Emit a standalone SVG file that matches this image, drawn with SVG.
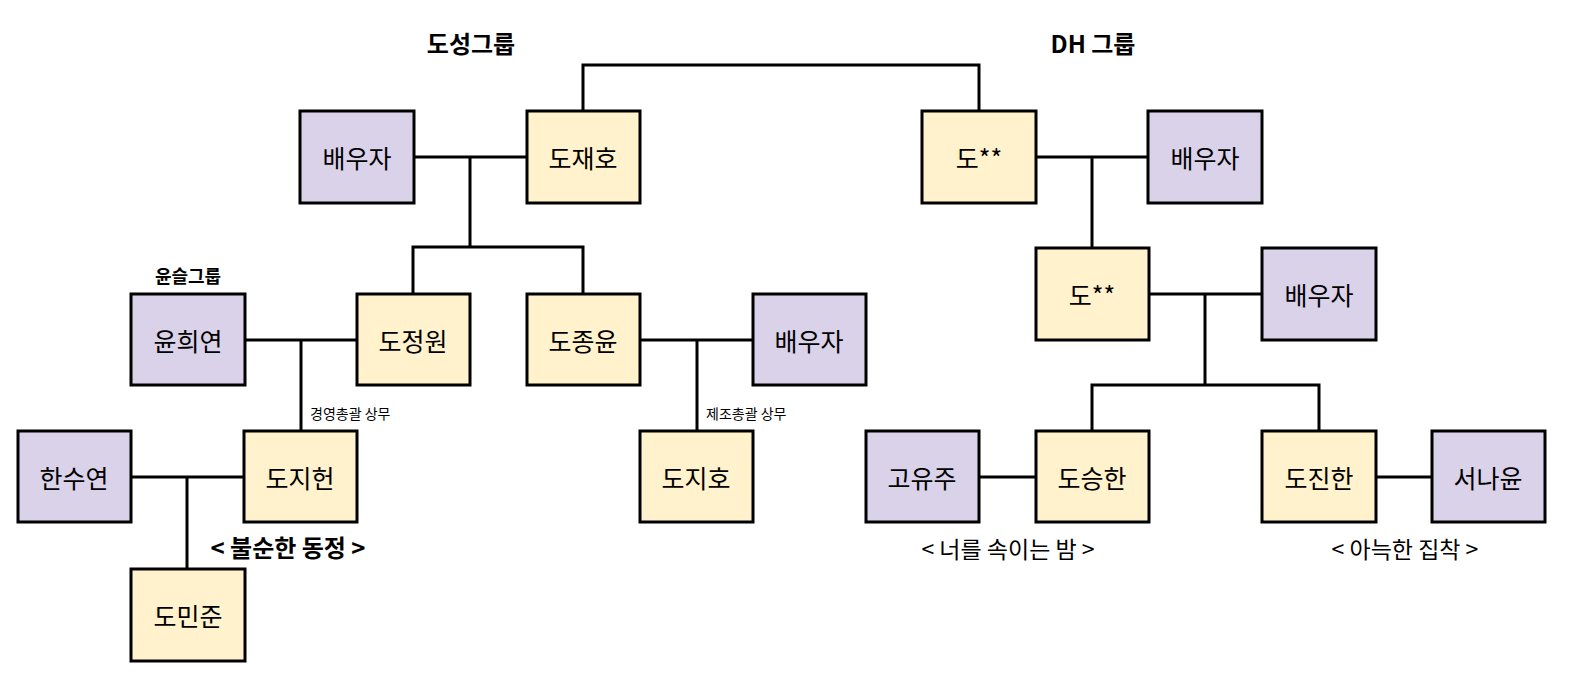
<svg xmlns="http://www.w3.org/2000/svg" width="1580" height="698" viewBox="0 0 1580 698">
<style>
text{font-family:"Noto Sans CJK KR","Noto Sans",sans-serif;fill:#000;text-anchor:middle}
.p{fill:#d9d2e9;stroke:#000;stroke-width:3}
.y{fill:#fff2cc;stroke:#000;stroke-width:3}
.n{font-size:25px;dominant-baseline:central}
.t{font-size:24px;font-weight:bold}
.s{font-size:14px;text-anchor:start}
.l{font-size:23px}
#c path{fill:none;stroke:#000;stroke-width:3}
</style>
<rect width="1580" height="698" fill="#fff"/>
<g id="c">
<path d="M583 111V65H979V111"/>
<path d="M414 157H527M470 157V247M413 294V247H583V294"/>
<path d="M1036 157H1148M1092 157V248"/>
<path d="M1149 294H1262M1205 294V385M1092 431V385H1319V431"/>
<path d="M245 340H357M301 340V431"/>
<path d="M640 340H753M697 340V431"/>
<path d="M131 477H244M187 477V569"/>
<path d="M979 477H1036M1376 477H1432"/>
</g>
<text class="t" x="471" y="53">도성그룹</text>
<text class="t" x="1093" y="53">DH 그룹</text>
<text x="188" y="283" style="font-size:18px;font-weight:bold">윤슬그룹</text>
<text class="s" x="310" y="419">경영총괄 상무</text>
<text class="s" x="706" y="419">제조총괄 상무</text>
<text class="t" x="288" y="557">&lt; 불순한 동정 &gt;</text>
<text class="l" x="1008" y="558">&lt; 너를 속이는 밤 &gt;</text>
<text class="l" x="1405" y="558">&lt; 아늑한 집착 &gt;</text>
<g id="n1"><rect class="p" x="300" y="111" width="114" height="92"/><text class="n" x="357" y="157">배우자</text></g>
<g id="n2"><rect class="y" x="527" y="111" width="113" height="92"/><text class="n" x="583" y="157">도재호</text></g>
<g id="n3"><rect class="y" x="922" y="111" width="114" height="92"/><text class="n" x="979" y="157">도**</text></g>
<g id="n4"><rect class="p" x="1148" y="111" width="114" height="92"/><text class="n" x="1205" y="157">배우자</text></g>
<g id="n5"><rect class="y" x="1036" y="248" width="113" height="92"/><text class="n" x="1092" y="294">도**</text></g>
<g id="n6"><rect class="p" x="1262" y="248" width="114" height="92"/><text class="n" x="1319" y="294">배우자</text></g>
<g id="n7"><rect class="p" x="131" y="294" width="114" height="91"/><text class="n" x="188" y="340">윤희연</text></g>
<g id="n8"><rect class="y" x="357" y="294" width="113" height="91"/><text class="n" x="413" y="340">도정원</text></g>
<g id="n9"><rect class="y" x="527" y="294" width="113" height="91"/><text class="n" x="583" y="340">도종윤</text></g>
<g id="n10"><rect class="p" x="753" y="294" width="113" height="91"/><text class="n" x="809" y="340">배우자</text></g>
<g id="n11"><rect class="p" x="18" y="431" width="113" height="91"/><text class="n" x="74" y="477">한수연</text></g>
<g id="n12"><rect class="y" x="244" y="431" width="113" height="91"/><text class="n" x="300" y="477">도지헌</text></g>
<g id="n13"><rect class="y" x="640" y="431" width="113" height="91"/><text class="n" x="696" y="477">도지호</text></g>
<g id="n14"><rect class="p" x="866" y="431" width="113" height="91"/><text class="n" x="922" y="477">고유주</text></g>
<g id="n15"><rect class="y" x="1036" y="431" width="113" height="91"/><text class="n" x="1092" y="477">도승한</text></g>
<g id="n16"><rect class="y" x="1262" y="431" width="114" height="91"/><text class="n" x="1319" y="477">도진한</text></g>
<g id="n17"><rect class="p" x="1432" y="431" width="113" height="91"/><text class="n" x="1488" y="477">서나윤</text></g>
<g id="n18"><rect class="y" x="131" y="569" width="114" height="92"/><text class="n" x="188" y="615">도민준</text></g>
</svg>
